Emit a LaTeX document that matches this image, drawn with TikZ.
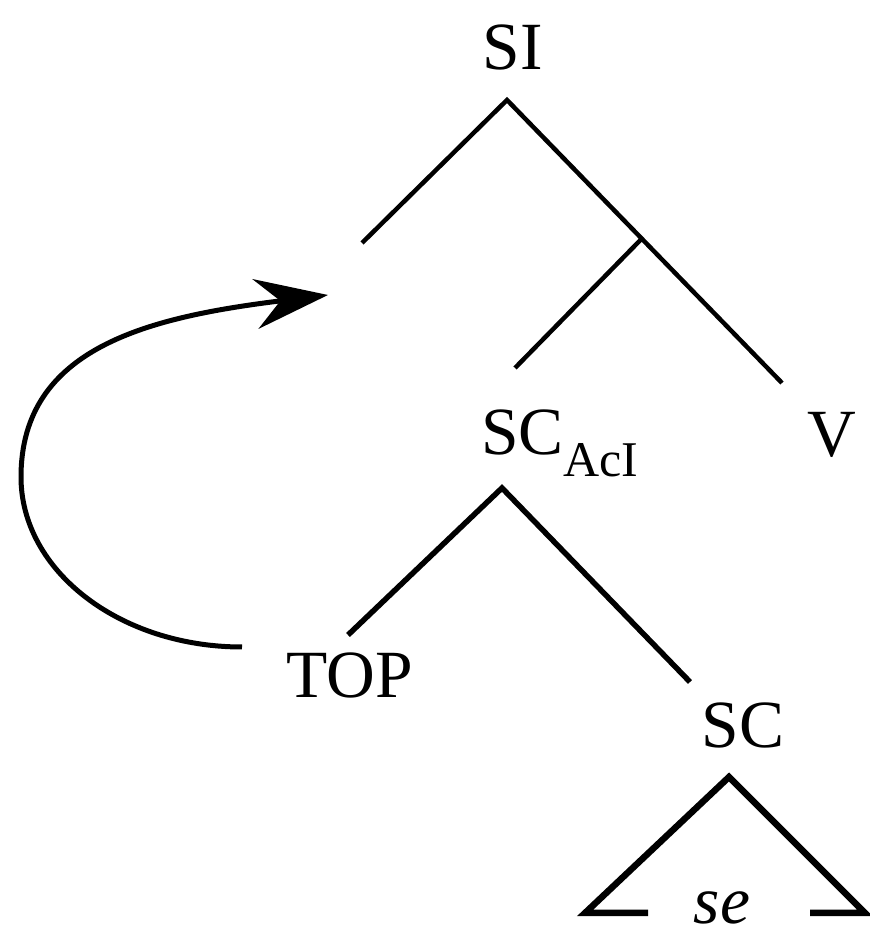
\documentclass[tikz,border=0pt]{standalone}
\usepackage{fontspec}
\setmainfont{Liberation Serif}
\usetikzlibrary{arrows.meta}
\usetikzlibrary{calc}

\begin{document}
\begin{tikzpicture}[x=.2pt,y=.2pt,inner sep=0pt,font=\fontsize{13.5}{16}\selectfont,>={Stealth[length=14.6pt,width=10pt,inset=5pt]},cat/.style={anchor=base},branch/.style={line width=.9pt}]
\useasboundingbox (0,0) rectangle (869,932);
\draw node [cat] (SI) at (513,862) {SI};
\draw node [cat,anchor=base west] (SCAcI) at (480,477) {SC\raisebox{-4.4pt}{\fontsize{10}{12}\selectfont AcI}};
\draw node [cat] (V) at (832,475) {V};
\draw node [cat] (TOP) at (350,234) {TOP};
\draw node [cat] (SC) at (743,184) {SC};
\draw node [cat] (se) at (722,8) {\itshape se};
\coordinate (A1) at (507,832);
\coordinate (L1) at (362,689);
\coordinate (R1) at (782,549);
\coordinate (J1) at ($ (A1)!.49!(R1) $);
\coordinate (I1) at (515,564);
\coordinate (A2) at (502,444);
\coordinate (L2) at (348,297);
\coordinate (R2) at (690,250);
\coordinate (A3) at (729,155);
\coordinate (L3) at (585,19);
\coordinate (R3) at (865,19);
\coordinate (from) at (242,285);
\coordinate (bend) at (21,455);
\coordinate (to) at (328,637);
\draw [branch] (L1) -- (A1) -- (R1);
\draw [branch] (J1) -- (I1);
\draw [branch,line width=1.1pt] (L2) -- (A2) -- (R2);
\draw [branch,line width=1.3pt] ($ (L3) + (63,0) $) -- (L3) -- (A3) -- (R3) -- ($ (R3) + (-55,0) $);
\draw [->,line width=1pt] (from) .. controls ($ (from) + (-122,0) $) and ($ (bend) + (0,-94) $) .. (bend) .. controls ($ (bend) + (0,130) $) and ($ (to) + (-178,-22) $) .. (to);
\end{tikzpicture}
\end{document}
